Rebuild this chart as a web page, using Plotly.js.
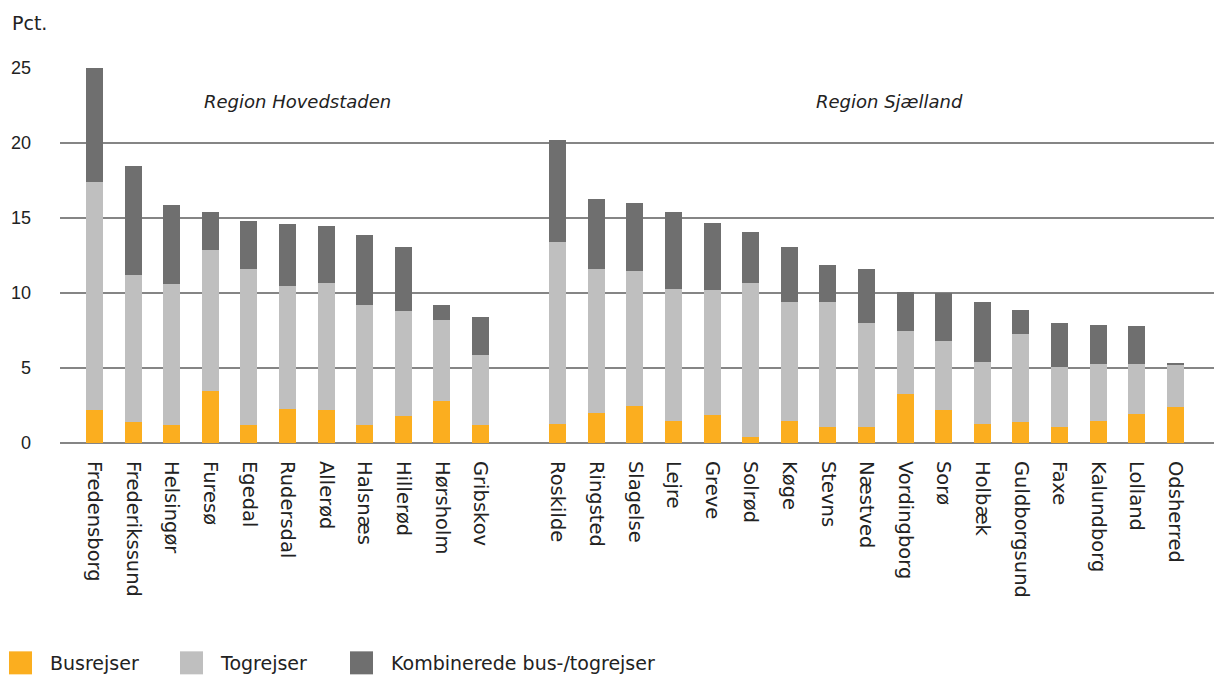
<!DOCTYPE html>
<html>
<head>
<meta charset="utf-8">
<script src="https://cdn.plot.ly/plotly-3.0.1.min.js"></script>
<style>html,body{margin:0;padding:0;background:#fff;}#chart{width:1214px;height:675px;}</style>
</head>
<body>
<div id="chart"></div>
<script>
// Categories (a blank spacer slot separates the two regions)
const categories = [
  "Fredensborg","Frederikssund","Helsingør","Furesø","Egedal","Rudersdal","Allerød","Halsnæs","Hillerød","Hørsholm","Gribskov",
  " ",
  "Roskilde","Ringsted","Slagelse","Lejre","Greve","Solrød","Køge","Stevns","Næstved","Vordingborg","Sorø","Holbæk","Guldborgsund","Faxe","Kalundborg","Lolland","Odsherred"
];
// Share of trips (pct.)
const busrejser = [2.2,1.4,1.2,3.5,1.2,2.3,2.2,1.2,1.8,2.8,1.2, null,
  1.3,2.0,2.5,1.5,1.9,0.4,1.5,1.1,1.1,3.3,2.2,1.3,1.4,1.1,1.5,1.95,2.4];
const togrejser = [15.2,9.8,9.4,9.4,10.4,8.2,8.5,8.0,7.0,5.4,4.7, null,
  12.1,9.6,9.0,8.8,8.3,10.3,7.9,8.3,6.9,4.15,4.6,4.1,5.9,3.95,3.75,3.35,2.8];
const kombinerede = [7.6,7.3,5.3,2.5,3.2,4.1,3.8,4.7,4.3,1.0,2.5, null,
  6.8,4.7,4.5,5.1,4.5,3.4,3.7,2.5,3.6,2.6,3.2,4.0,1.55,2.95,2.6,2.5,0.12];
const yTicks = [0,5,10,15,20,25];
const seriesNames = ["Busrejser","Togrejser","Kombinerede bus-/togrejser"];
const regionLabels = ["Region Hovedstaden","Region Sjælland"];

const FONT = "'DejaVu Sans', sans-serif";
const TICKFONT = "'Liberation Sans', Arial, sans-serif";
const TXT = "#222222";
const colors = ["#FBAE1F","#BFBFBF","#6F6F6F"];
const legendIds = ["legend","legend2","legend3"];
const legendX = [-9, 162, 332]; // px from the left edge of the figure

const traces = [busrejser, togrejser, kombinerede].map((vals, i) => ({
  type: "bar",
  name: seriesNames[i],
  x: categories,
  y: vals,
  legend: legendIds[i],
  marker: {color: colors[i], line: {width: 0}},
  hoverinfo: "x+y+name"
}));

const PLOT_L = 60, PLOT_W = 1214 - 60;
const layout = {
  width: 1214, height: 675,
  margin: {l: PLOT_L, r: 0, t: 68, b: 232, pad: 0, autoexpand: false},
  paper_bgcolor: "#fff", plot_bgcolor: "#fff",
  barmode: "stack",
  bargap: 0.56,
  font: {family: FONT, size: 19, color: TXT},
  xaxis: {
    type: "category",
    categoryorder: "array",
    categoryarray: categories,
    range: [-0.894, 29.0],
    tickangle: 90,
    showgrid: false,
    zeroline: false,
    showline: false,
    ticks: "",
    ticklabelstandoff: 17,
    tickfont: {family: FONT, size: 19.5, color: TXT},
    fixedrange: true
  },
  yaxis: {
    range: [0, 25],
    tickvals: yTicks,
    ticktext: yTicks.map(String),
    showgrid: true,
    gridcolor: "#858585",
    gridwidth: 1.6,
    zeroline: true,
    zerolinecolor: "#858585",
    zerolinewidth: 1.6,
    showline: false,
    ticks: "",
    ticklabelstandoff: 28,
    tickfont: {family: TICKFONT, size: 18, color: TXT},
    fixedrange: true
  },
  showlegend: true,
  annotations: [
    {text: "Pct.", xref: "paper", yref: "paper", x: -0.043, y: 1.12, xanchor: "left", yanchor: "middle", showarrow: false, font: {family: FONT, size: 19, color: TXT}},
    {text: "<i>" + regionLabels[0] + "</i>", xref: "x", yref: "y", x: 5.27, y: 22.8, xanchor: "center", yanchor: "middle", showarrow: false, font: {family: FONT, size: 18, color: TXT}},
    {text: "<i>" + regionLabels[1] + "</i>", xref: "x", yref: "y", x: 20.6, y: 22.8, xanchor: "center", yanchor: "middle", showarrow: false, font: {family: FONT, size: 18, color: TXT}}
  ]
};
legendIds.forEach((id, i) => {
  layout[id] = {
    orientation: "h",
    xref: "paper", yref: "container",
    x: (legendX[i] - PLOT_L) / PLOT_W, xanchor: "left",
    y: 12 / 675, yanchor: "middle",
    itemwidth: 49,
    bgcolor: "rgba(0,0,0,0)",
    font: {family: FONT, size: 19, color: TXT},
    itemclick: false, itemdoubleclick: false
  };
});

Plotly.newPlot("chart", traces, layout, {displayModeBar: false}).then(gd => {
  // enlarge legend swatches to match the reference's square keys
  gd.querySelectorAll(".legendpoints path").forEach(p => p.setAttribute("d", "M11.5,11.5H-11.5V-11.5H11.5Z"));
});
</script>
</body>
</html>
